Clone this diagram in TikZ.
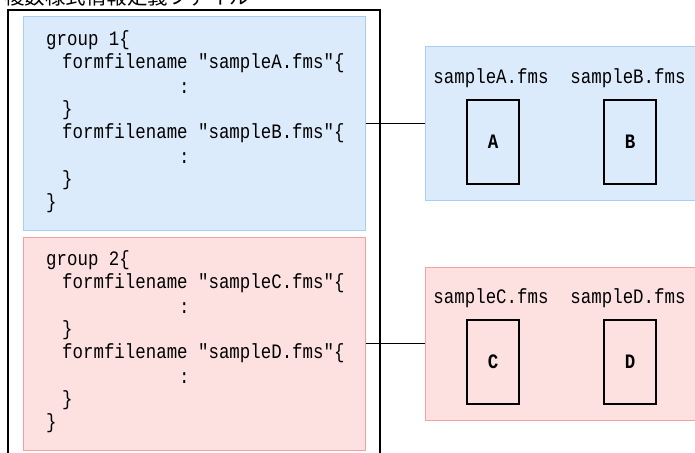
\documentclass[tikz,border=0pt]{standalone}
\usepackage{fontspec}
\newfontfamily\codefont[FakeStretch=0.85]{Liberation Mono}
\newfontfamily\jpfont{Noto Sans CJK JP}
\definecolor{blufill}{RGB}{220,235,252}
\definecolor{bluline}{RGB}{168,206,246}
\definecolor{rdfill}{RGB}{253,224,224}
\definecolor{rdline}{RGB}{244,160,160}
\tikzset{
  code/.style={font=\fontsize{20.5}{24}\selectfont\codefont, anchor=west, inner sep=0pt},
  fname/.style={font=\fontsize{20.5}{24}\selectfont\codefont, inner sep=0pt},
  form/.style={draw, line width=1.3pt, minimum width=52, minimum height=84, inner sep=0pt,
    font=\fontsize{20.5}{24}\selectfont\codefont\bfseries},
  groupbox/.style={draw=#1line, fill=#1fill, line width=1pt, inner sep=0pt}
}
\begin{document}
\begin{tikzpicture}[x=1pt, y=-1pt]
\useasboundingbox (0,0) rectangle (695,452);
\node[anchor=base west, inner sep=0pt, font=\fontsize{20.5}{24}\selectfont\jpfont] (title) at (4,5) {複数様式情報定義ファイル};
\node[draw, line width=1.2pt, minimum width=372, minimum height=460, inner sep=0pt] (file) at (194,240) {};
\foreach \g/\dy/\p/\q/\c in {1/0/A/B/blu, 2/220/C/D/rd} {
  % group in the definition file
  \node[groupbox=\c, minimum width=342, minimum height=213] (grp\g) at (194,123.5+\dy) {};
  \node[code] (open\g) at (46,40+\dy) {group \g\{};
  \node[code] (ff\p) at (62,63+\dy) {formfilename "sample\p.fms"\{};
  \node[code] (dotA\g) at (179,88+\dy) {:};
  \node[code] (endA\g) at (62,110+\dy) {\}};
  \node[code] (ff\q) at (62,133+\dy) {formfilename "sample\q.fms"\{};
  \node[code] (dotB\g) at (179,158+\dy) {:};
  \node[code] (endB\g) at (62,180+\dy) {\}};
  \node[code] (close\g) at (46,203+\dy) {\}};
  % forms of the group
  \node[groupbox=\c, minimum width=290, minimum height=153] (set\g) at (570,123.5+\dy) {};
  \node[fname] (name\p) at (491,78+\dy) {sample\p.fms};
  \node[fname] (name\q) at (628,78+\dy) {sample\q.fms};
  \node[form] (form\p) at (493,142+\dy) {\p};
  \node[form] (form\q) at (630,142+\dy) {\q};
  \draw[line width=1pt] (grp\g.east) -- (set\g.west);
}
\end{tikzpicture}
\end{document}
